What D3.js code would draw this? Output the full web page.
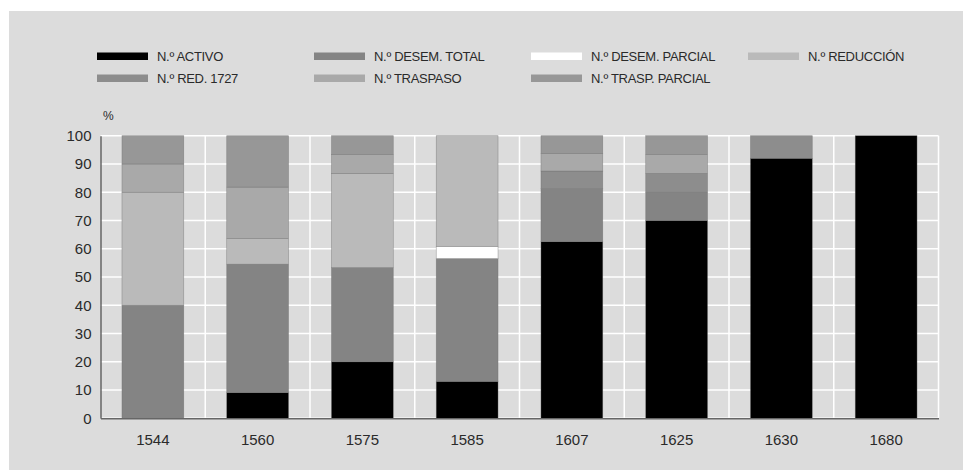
<!DOCTYPE html>
<html>
<head>
<meta charset="utf-8">
<script src="https://cdn.jsdelivr.net/npm/d3@7"></script>
<style>
    body { margin: 0; background: #fff; }
    text { font-family: "Liberation Sans", Arial, sans-serif; fill: #2a2a2a; }
</style>
</head>
<body>
<div id="chart"></div>
<script>
// data (percent of each year)
var years = ["1544", "1560", "1575", "1585", "1607", "1625", "1630", "1680"];
var activo       = [0, 9.09, 20, 13.04, 62.5, 70, 92, 100];
var desemTotal   = [40, 45.45, 33.33, 43.48, 18.75, 10, 0, 0];
var desemParcial = [0, 0, 0, 4.35, 0, 0, 0, 0];
var reduccion    = [40, 9.09, 33.33, 39.13, 0, 0, 0, 0];
var red1727      = [0, 0, 0, 0, 6.25, 6.67, 8, 0];
var traspaso     = [10, 18.18, 6.67, 0, 6.25, 6.67, 0, 0];
var traspParcial = [10, 18.18, 6.67, 0, 6.25, 6.67, 0, 0];

var seriesNames = ["N.º ACTIVO", "N.º DESEM. TOTAL", "N.º DESEM. PARCIAL", "N.º REDUCCIÓN",
    "N.º RED. 1727", "N.º TRASPASO", "N.º TRASP. PARCIAL"];
var seriesValues = [activo, desemTotal, desemParcial, reduccion, red1727, traspaso, traspParcial];
var yTicks = [0, 10, 20, 30, 40, 50, 60, 70, 80, 90, 100];

var width = 963, height = 470;

var svg = d3.select("#chart")
    .append("svg")
    .attr("width", width)
    .attr("height", height);

// grey panel
svg.append("rect")
    .attr("x", 9).attr("y", 11)
    .attr("width", width - 9).attr("height", height - 11)
    .attr("fill", "#dcdcdc");

var color = d3.scaleOrdinal()
    .domain(seriesNames)
    .range(["#000000", "#848484", "#ffffff", "#bababa", "#8d8d8d", "#a9a9a9", "#979797"]);

// table for the stack
var table = years.map(function (y, i) {
    var row = {year: y};
    seriesNames.forEach(function (s, j) { row[s] = seriesValues[j][i]; });
    return row;
});

var x = d3.scaleBand()
    .domain(years)
    .range([100.5, 938.5])
    .padding(0);

var y = d3.scaleLinear()
    .domain([0, 100])
    .range([418.3, 135.7]);

// gridlines
var grid = svg.append("g");
grid.selectAll(".hgrid")
    .data(yTicks)
    .enter()
    .append("line")
    .attr("x1", x.range()[0])
    .attr("x2", x.range()[1])
    .attr("y1", function (d) { return y(d); })
    .attr("y2", function (d) { return y(d); })
    .attr("stroke", "#fff")
    .attr("stroke-width", 1.5);

grid.selectAll(".vgrid")
    .data(years)
    .enter()
    .append("line")
    .attr("x1", function (d) { return x(d) + x.bandwidth(); })
    .attr("x2", function (d) { return x(d) + x.bandwidth(); })
    .attr("y1", y(0))
    .attr("y2", y(100))
    .attr("stroke", "#fff")
    .attr("stroke-width", 1.5);

// stacked bars
var stack = d3.stack().keys(seriesNames)(table);
var barW = x.bandwidth() * 0.59;

svg.append("g")
    .selectAll("g")
    .data(stack)
    .enter()
    .append("g")
    .attr("fill", function (d) { return color(d.key); })
    .selectAll("rect")
    .data(function (d) { return d.filter(function (p) { return p[1] - p[0] > 0; }); })
    .enter()
    .append("rect")
    .attr("x", function (d) { return x(d.data.year) + (x.bandwidth() - barW) / 2; })
    .attr("width", barW)
    .attr("y", function (d) { return y(d[1]); })
    .attr("height", function (d) { return y(d[0]) - y(d[1]); })
    .attr("stroke", "rgba(110,110,110,0.6)")
    .attr("stroke-width", 0.6);

// axes
var yAxis = svg.append("g")
    .attr("transform", "translate(" + x.range()[0] + ",0)")
    .call(d3.axisLeft(y).tickValues(yTicks).tickSize(0).tickPadding(9));
yAxis.select(".domain").attr("stroke", "#666").attr("stroke-width", 1.5);
yAxis.selectAll("text").style("font-size", "15px").attr("fill", "#2a2a2a");

var xAxis = svg.append("g")
    .attr("transform", "translate(0," + y(0) + ")")
    .call(d3.axisBottom(x).tickSize(0).tickPadding(16));
xAxis.select(".domain").attr("stroke", "#666").attr("stroke-width", 1.5);
xAxis.selectAll("text").style("font-size", "15px").attr("fill", "#2a2a2a");

svg.append("text")
    .attr("x", 103)
    .attr("y", 120)
    .style("font-size", "12px")
    .text("%");

// legend
var legend = svg.selectAll(".legend")
    .data(seriesNames)
    .enter()
    .append("g")
    .attr("class", "legend")
    .attr("transform", function (d, i) {
        var col = i % 4, row = Math.floor(i / 4);
        return "translate(" + (97 + col * 217) + "," + (56 + row * 22) + ")";
    });

legend.append("rect")
    .attr("x", 0)
    .attr("y", -3.5)
    .attr("width", 51)
    .attr("height", 7.5)
    .attr("fill", function (d) { return color(d); });

legend.append("text")
    .attr("x", 60)
    .attr("y", 0)
    .attr("dy", "0.36em")
    .style("font-size", "13px")
    .style("letter-spacing", "-0.3px")
    .text(function (d) { return d; });
</script>
</body>
</html>
